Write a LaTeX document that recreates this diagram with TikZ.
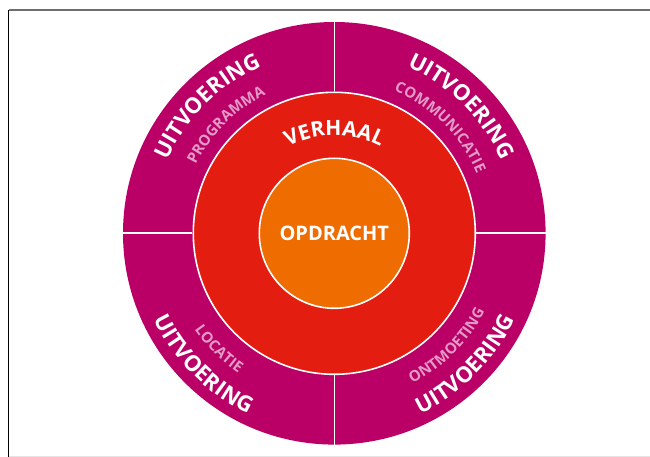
\documentclass[tikz,border=0pt]{standalone}
\usepackage{fontspec}
\setmainfont{Open Sans}
\usetikzlibrary{decorations.text}
\definecolor{ringmag}{HTML}{BA0066}
\definecolor{ringred}{HTML}{E31E10}
\definecolor{ringorange}{HTML}{EE6C00}
\definecolor{sublab}{HTML}{E29AC6}
\definecolor{topframe}{HTML}{6E6E6E}
\definecolor{botframe}{HTML}{E4E4E4}
\newcommand{\mainfnt}{\fontsize{22}{22}\selectfont\bfseries}
\newcommand{\subfnt}{\fontsize{15}{15}\selectfont\bfseries}
\newcommand{\verfnt}{\fontsize{21}{21}\selectfont\bfseries}
\tikzset{
  ringsep/.style={draw=white, line width=1.6pt},
  toplabel/.style={decorate, decoration={text along path, text align=center, text color=white, text={|\mainfnt|#1}}},
  topsub/.style={decorate, decoration={text along path, text align=center, text color=sublab, text={|\subfnt|#1}}},
  verlabel/.style={decorate, decoration={text along path, text align=center, text color=white, text={|\verfnt|#1}}},
}
\begin{document}
\begin{tikzpicture}[x=1pt,y=1pt]
\useasboundingbox (-334.3,-223.7) rectangle (315.7,233.3);
\fill[white] (-334.3,-223.7) rectangle (315.7,233.3);
% frame
\coordinate (tl) at (-325.3,223.3);
\coordinate (tr) at (315.7,223.3);
\coordinate (bl) at (-325.3,-223.7);
\coordinate (bl2) at (-325.3,-222.7);
\coordinate (br) at (315.7,-222.7);
\draw[botframe, line width=1pt] (bl2) -- (br);
\draw[topframe, line width=1.3pt] (tl) -- (tr);
\draw[black, line width=1pt] (tl) -- (bl);
% rings
\fill[ringmag] (0,0) circle[radius=211.3];
\filldraw[fill=ringred, ringsep] (0,0) circle[radius=141];
\filldraw[fill=ringorange, ringsep] (0,0) circle[radius=75];
\foreach \a in {0,90,180,270}{
  \draw[ringsep] (\a:141.8) -- (\a:212);
}
% top labels (clockwise)
\path[toplabel=UITVOERING] (180:182) arc[start angle=180, end angle=90, radius=182];
\path[toplabel=UITVOERING] (90:182) arc[start angle=90, end angle=0, radius=182];
\path[topsub=PROGRAMMA] (180:154.5) arc[start angle=180, end angle=90, radius=154.5];
\path[topsub=COMMUNICATIE] (90:154.5) arc[start angle=90, end angle=0, radius=154.5];
% bottom labels (counterclockwise)
\path[toplabel=UITVOERING] (180:200) arc[start angle=180, end angle=270, radius=200];
\path[toplabel=UITVOERING] (270:200) arc[start angle=270, end angle=360, radius=200];
\path[topsub=LOCATIE] (180:169.5) arc[start angle=180, end angle=270, radius=169.5];
\path[topsub=ONTMOETING] (270:169.5) arc[start angle=270, end angle=360, radius=169.5];
% verhaal
\path[verlabel=VERHAAL] (150:98) arc[start angle=150, end angle=30, radius=98];
% opdracht
\node[text=white, font=\fontsize{20}{20}\selectfont\bfseries, inner sep=0pt] (opdracht) at (0,0) {OPDRACHT};
\end{tikzpicture}
\end{document}
